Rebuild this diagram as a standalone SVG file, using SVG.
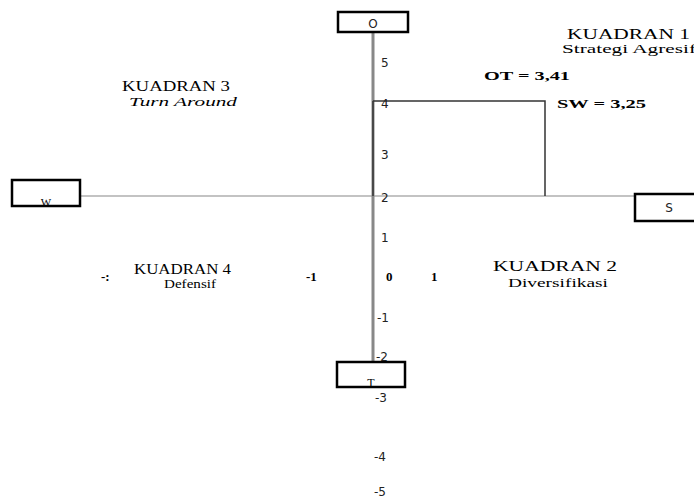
<svg xmlns="http://www.w3.org/2000/svg" width="694" height="500" viewBox="0 0 694 500">
<style>
.box{fill:#fff;stroke:#000;stroke-width:2.5}
.ser{font-family:"Liberation Serif","Times New Roman",serif;fill:#000}
.san{font-family:"DejaVu Sans","Liberation Sans",sans-serif;fill:#222;font-size:12px}
.axis{stroke:#888;fill:none}
.q{font-size:14px}
.s{font-size:12px}
.b{font-weight:bold;font-size:13px}
</style>
<rect width="694" height="500" fill="#fff"/>
<g id="connectors">
<line class="axis" x1="80" y1="196" x2="635" y2="196" stroke-width="1.2"/>
<line class="axis" x1="373" y1="31" x2="373" y2="362" stroke-width="3"/>
<polyline points="373,101 545,101 545,196" fill="none" stroke="#333" stroke-width="1.5"/>
<line x1="373" y1="101" x2="373" y2="196" stroke="#333" stroke-width="1.5"/>
</g>
<g id="node-O"><rect class="box" x="338" y="12" width="70" height="20"/><text class="san" x="373" y="28" text-anchor="middle" font-size="13">O</text></g>
<g id="node-W"><rect class="box" x="12" y="180" width="68" height="26"/><text class="ser" x="46" y="206" text-anchor="middle" font-size="11">W</text></g>
<g id="node-S"><rect class="box" x="635" y="194" width="62" height="27"/><text class="san" x="669" y="212" text-anchor="middle">S</text></g>
<g id="node-T"><rect class="box" x="337" y="362" width="68" height="25"/><text class="ser" x="371" y="387" text-anchor="middle" font-size="12">T</text></g>
<g id="ticks">
<text class="san" x="381" y="67">5</text>
<text class="san" x="381" y="108">4</text>
<text class="san" x="381" y="159">3</text>
<text class="san" x="381" y="202">2</text>
<text class="san" x="381" y="242">1</text>
<text class="ser b" x="386" y="281">0</text>
<text class="ser b" x="431" y="281">1</text>
<text class="ser b" x="306" y="281">-1</text>
<text class="san" x="377" y="322">-1</text>
<text class="san" x="376" y="361">-2</text>
<text class="san" x="375" y="402">-3</text>
<text class="san" x="374" y="461">-4</text>
<text class="san" x="374" y="496">-5</text>
<text class="ser b" x="101" y="281">-:</text>
</g>
<g id="labels">
<text class="ser q" x="567" y="39" textLength="123" lengthAdjust="spacingAndGlyphs">KUADRAN 1</text>
<text class="ser s" x="562" y="53" textLength="134" lengthAdjust="spacingAndGlyphs">Strategi Agresif</text>
<text class="ser b" x="484" y="80" textLength="86" lengthAdjust="spacingAndGlyphs">OT = 3,41</text>
<text class="ser b" x="557" y="108" textLength="89" lengthAdjust="spacingAndGlyphs">SW = 3,25</text>
<text class="ser q" x="122" y="91" textLength="108" lengthAdjust="spacingAndGlyphs">KUADRAN 3</text>
<text class="ser s" x="129" y="106" font-style="italic" textLength="108" lengthAdjust="spacingAndGlyphs">Turn Around</text>
<text class="ser q" x="134" y="274" textLength="97" lengthAdjust="spacingAndGlyphs">KUADRAN 4</text>
<text class="ser s" x="164" y="288" textLength="52" lengthAdjust="spacingAndGlyphs">Defensif</text>
<text class="ser q" x="493" y="271" textLength="124" lengthAdjust="spacingAndGlyphs">KUADRAN 2</text>
<text class="ser s" x="508" y="287" textLength="100" lengthAdjust="spacingAndGlyphs">Diversifikasi</text>
</g>
</svg>
